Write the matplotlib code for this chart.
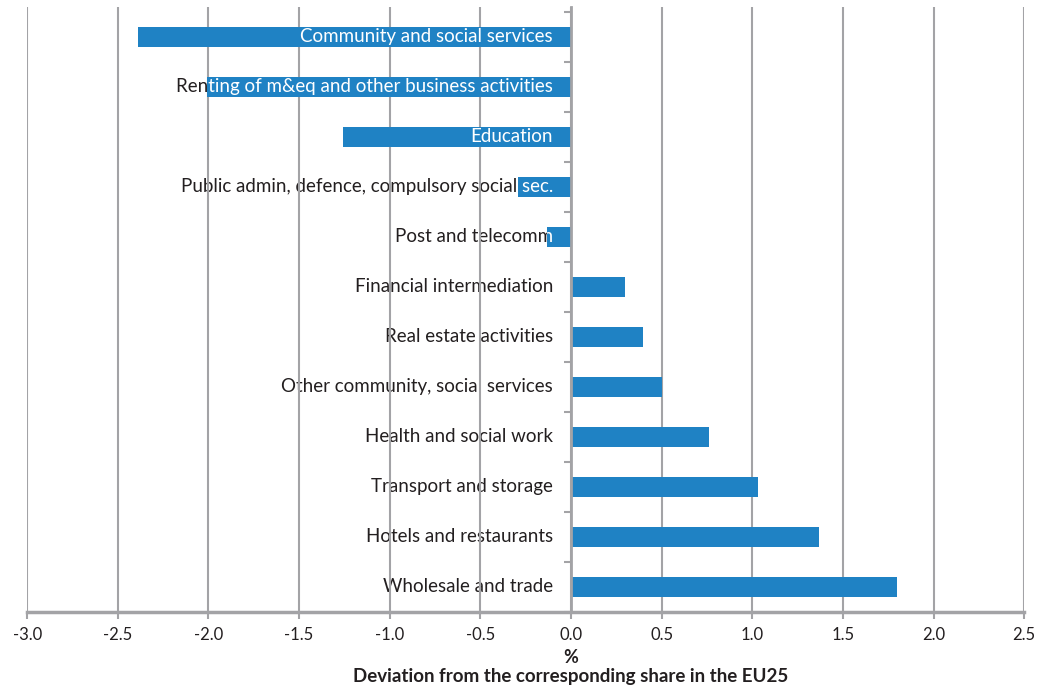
import matplotlib
matplotlib.use("Agg")
import matplotlib.pyplot as plt
from matplotlib.ticker import FixedLocator

# Sectors, top to bottom as shown
sectors = [
    "Community and social services",
    "Renting of m&eq and other business activities",
    "Education",
    "Public admin, defence, compulsory social sec.",
    "Post and telecomm",
    "Financial intermediation",
    "Real estate activities",
    "Other community, social services",
    "Health and social work",
    "Transport and storage",
    "Hotels and restaurants",
    "Wholesale and trade",
]
deviation = [-2.39, -2.01, -1.26, -0.29, -0.13, 0.30, 0.40, 0.50, 0.76, 1.03, 1.37, 1.80]

x_ticks = [-3.0, -2.5, -2.0, -1.5, -1.0, -0.5, 0.0, 0.5, 1.0, 1.5, 2.0, 2.5]

BLUE = "#1f82c4"
GREY = "#a3a3a6"
DARK = "#231f20"

plt.rcParams["font.family"] = ["Lato", "DejaVu Sans"]


def main():
    fig = plt.figure(figsize=(10.44, 6.88), dpi=100)
    ax = fig.add_axes([0.026, 0.1105, 0.955, 0.8795])

    ypos = list(range(len(sectors)))[::-1]
    bars = ax.barh(ypos, deviation, height=0.39, color=BLUE, zorder=2)

    # category labels: dark under the bars, white where a bar covers them
    for y, name, bar in zip(ypos, sectors, bars):
        ax.annotate(name, xy=(0, y), xytext=(-13, 0), textcoords="offset points",
                    ha="right", va="center", fontsize=13.5, color=DARK, zorder=0.3)
        t = ax.annotate(name, xy=(0, y), xytext=(-13, 0), textcoords="offset points",
                        ha="right", va="center", fontsize=13.5, color="white",
                        zorder=3, annotation_clip=False)
        t.set_clip_on(True)
        t.set_clip_path(bar)

    ax.set_xlim(-3.0, 2.5)
    ax.set_ylim(-0.5, 11.6)
    ax.set_xticks(x_ticks)
    ax.set_xticklabels([f"{v:.1f}" for v in x_ticks], fontsize=12, color=DARK)
    ax.tick_params(axis="x", length=5, width=1.5, color=GREY, pad=6)

    ax.set_yticks([])
    ax.yaxis.set_minor_locator(FixedLocator([i + 0.5 for i in range(-1, 12)]))
    ax.tick_params(axis="y", which="minor", length=5, width=1.5, color=GREY, direction="out")

    ax.grid(axis="x", color=GREY, linewidth=1.5)
    ax.set_axisbelow(True)

    ax.spines["top"].set_visible(False)
    ax.spines["right"].set_visible(False)
    ax.spines["left"].set_position(("data", 0))
    ax.spines["left"].set_color(GREY)
    ax.spines["left"].set_linewidth(2)
    ax.spines["bottom"].set_color(GREY)
    ax.spines["bottom"].set_linewidth(2.5)

    # axis title centred under the zero line
    trans = ax.get_xaxis_transform()
    ax.annotate("%", xy=(0, 0), xycoords=trans, xytext=(0, -27), textcoords="offset points",
                ha="center", va="top", fontsize=13, fontweight="bold", color=DARK,
                annotation_clip=False)
    ax.annotate("Deviation from the corresponding share in the EU25", xy=(0, 0), xycoords=trans,
                xytext=(0, -40), textcoords="offset points", ha="center", va="top",
                fontsize=13.5, fontweight="bold", color=DARK, annotation_clip=False)

    fig.savefig("out.png", dpi=100)


if __name__ == "__main__":
    main()
